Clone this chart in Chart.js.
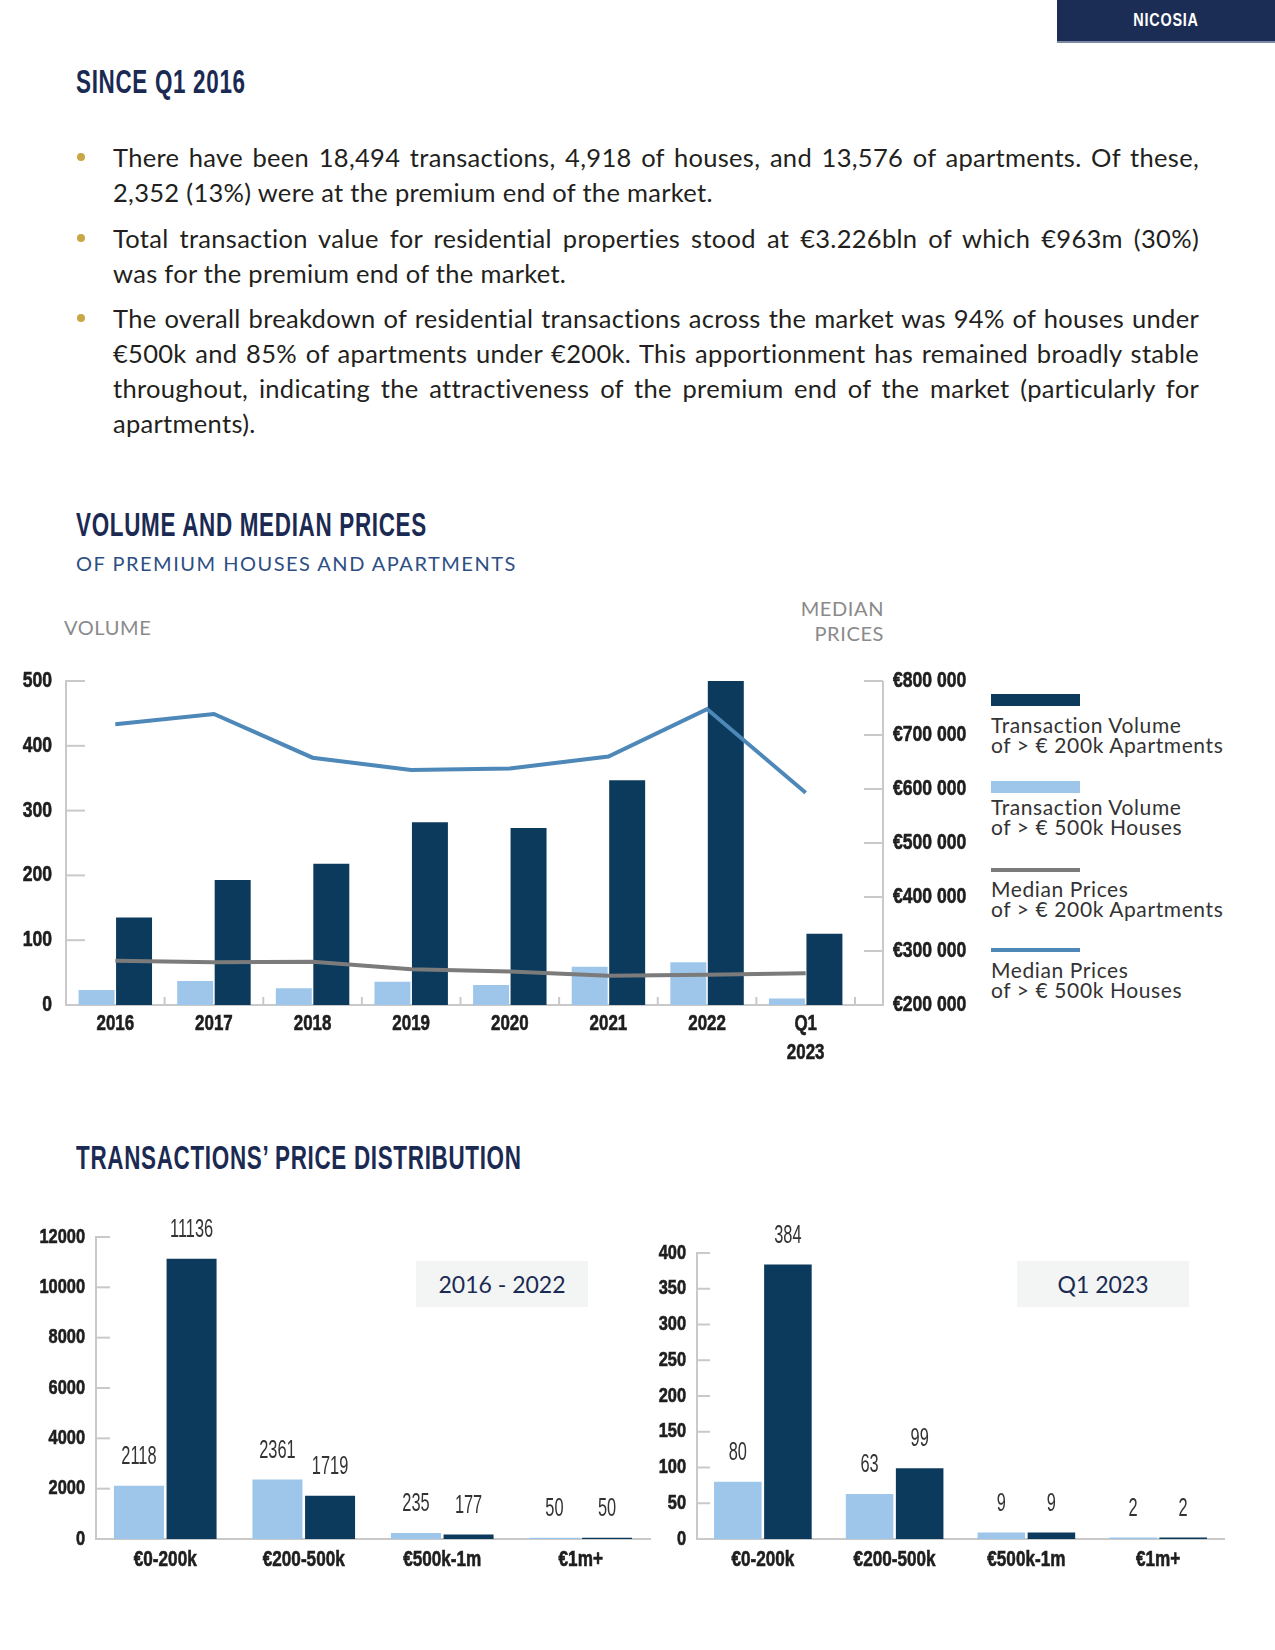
<!DOCTYPE html>
<html>
<head>
<meta charset="utf-8">
<script src="https://cdn.jsdelivr.net/npm/chart.js@4.4.1/dist/chart.umd.min.js"></script>
<style>
  body { margin: 0; width: 1275px; height: 1650px; position: relative; background: #fff; overflow: hidden;
         font-family: Lato, "Open Sans", sans-serif; color: #231f20; }
  .abs { position: absolute; }
  .head { font-family: "Liberation Sans", Arial, sans-serif; font-weight: 700; color: #1b2a52;
          font-size: 33px; line-height: 40px; letter-spacing: 1px; transform: scaleX(0.68); transform-origin: 0 50%; white-space: nowrap; }
  .tag { left: 1057px; top: 0; width: 218px; height: 41px; background: #1c2d55; border-bottom: 2px solid #7e8aa3;
         color: #fff; text-align: center; line-height: 41px; font-family: "Liberation Sans", Arial, sans-serif;
         font-weight: 700; font-size: 18px; letter-spacing: 1px; }
  .tag span { display: inline-block; transform: scaleX(0.8); }
  .body { font-size: 25.5px; letter-spacing: 0.3px; }
  .p { position: relative; margin-bottom: 10.5px; }
  .ln { display: block; height: 35px; line-height: 35px; white-space: nowrap; }
  .j { text-align: justify; text-align-last: justify; white-space: normal; word-spacing: -3px; }
  .dot { position: absolute; left: -36px; top: 13px; width: 8px; height: 8px; border-radius: 50%; background: #c9a646; }
  .sub { font-size: 20px; line-height: 24px; color: #2d4f84; letter-spacing: 1.5px; white-space: nowrap; }
  .grey { font-size: 20px; line-height: 25px; color: #8a8a8a; letter-spacing: 0.6px; white-space: nowrap; }
  .leg { left: 991px; width: 280px; }
  .sw { position: absolute; left: 0; width: 89px; }
  .lt { position: absolute; left: 0; font-size: 21px; line-height: 20px; letter-spacing: 0.6px; color: #333; white-space: nowrap; }
  .box { background: #f3f5f5; color: #1b2a52; font-size: 23px; text-align: center; line-height: 46px; height: 46px; }
</style>
</head>
<body>

<div class="abs tag"><span>NICOSIA</span></div>
<div class="abs head" style="left:76px;top:62px;">SINCE Q1 2016</div>

<div class="abs body" style="left:113px;top:140px;width:1086px;">
  <div class="p"><span class="dot"></span>
    <span class="ln j">There have been 18,494 transactions, 4,918 of houses, and 13,576 of apartments. Of these,</span>
    <span class="ln">2,352 (13%) were at the premium end of the market.</span>
  </div>
  <div class="p"><span class="dot"></span>
    <span class="ln j">Total transaction value for residential properties stood at €3.226bln of which €963m (30%)</span>
    <span class="ln">was for the premium end of the market.</span>
  </div>
  <div class="p"><span class="dot"></span>
    <span class="ln j">The overall breakdown of residential transactions across the market was 94% of houses under</span>
    <span class="ln j">€500k and 85% of apartments under €200k. This apportionment has remained broadly stable</span>
    <span class="ln j">throughout, indicating the attractiveness of the premium end of the market (particularly for</span>
    <span class="ln">apartments).</span>
  </div>
</div>

<div class="abs head" style="left:76px;top:505px;">VOLUME AND MEDIAN PRICES</div>
<div class="abs sub" style="left:76px;top:551px;">OF PREMIUM HOUSES AND APARTMENTS</div>
<div class="abs grey" style="left:64px;top:615px;">VOLUME</div>
<div class="abs grey" style="left:784px;top:596px;width:100px;text-align:right;">MEDIAN<br>PRICES</div>

<canvas id="volChart" class="abs" width="975" height="420" style="left:0;top:650px;"></canvas>

<div class="abs leg" style="top:0;">
  <div class="sw" style="top:694px;height:12px;background:#0c3a5c;"></div>
  <div class="lt" style="top:715px;">Transaction Volume<br>of &gt; € 200k Apartments</div>
  <div class="sw" style="top:781px;height:12px;background:#9dc6ea;"></div>
  <div class="lt" style="top:797px;">Transaction Volume<br>of &gt; € 500k Houses</div>
  <div class="sw" style="top:868px;height:4px;background:#7b7b7b;"></div>
  <div class="lt" style="top:879px;">Median Prices<br>of &gt; € 200k Apartments</div>
  <div class="sw" style="top:948px;height:4px;background:#4d88b8;"></div>
  <div class="lt" style="top:960px;">Median Prices<br>of &gt; € 500k Houses</div>
</div>

<div class="abs head" style="left:76px;top:1138px;">TRANSACTIONS’ PRICE DISTRIBUTION</div>

<canvas id="distAll" class="abs" width="655" height="390" style="left:0;top:1200px;"></canvas>
<canvas id="distQ1" class="abs" width="600" height="390" style="left:640px;top:1200px;"></canvas>

<div class="abs box" style="left:416px;top:1261px;width:172px;">2016 - 2022</div>
<div class="abs box" style="left:1017px;top:1261px;width:172px;">Q1 2023</div>

<script>
// volume and median prices, premium segment
const years = ['2016', '2017', '2018', '2019', '2020', '2021', '2022', ['Q1', '2023']];
const aptVolume = [135, 193, 218, 282, 273, 347, 500, 110];
const houseVolume = [23, 37, 26, 36, 31, 59, 66, 10];
const aptMedian = [282000, 279000, 280000, 266000, 262000, 254000, 256000, 259000];
const houseMedian = [720000, 739000, 658000, 635000, 638000, 660000, 748000, 593000];

// price distribution
const priceBands = ['€0-200k', '€200-500k', '€500k-1m', '€1m+'];
const housesAll = [2118, 2361, 235, 50];
const aptsAll = [11136, 1719, 177, 50];
const housesQ1 = [80, 63, 9, 2];
const aptsQ1 = [384, 99, 9, 2];

const SANS = '"Liberation Sans", Arial, sans-serif';
const AXIS = '#c9c9c9';
const DARK = '#0c3a5c';
const LIGHT = '#9dc6ea';
const BLUE = '#4d88b8';
const GREY = '#7b7b7b';
const INK = '#1e1e1e';

function euro(v) {
    return '€' + String(v).replace(/\B(?=(\d{3})+(?!\d))/g, ' ');
}

function seg(ctx, x1, y1, x2, y2) {
    ctx.beginPath();
    ctx.moveTo(x1, y1);
    ctx.lineTo(x2, y2);
    ctx.stroke();
}

// the original uses a condensed face, so text is squeezed horizontally
function squeeze(ctx, text, x, y, sx, bold) {
    ctx.save();
    ctx.translate(x, y);
    ctx.scale(sx, 1);
    ctx.fillText(text, 0, 0);
    if (bold) {
        ctx.lineWidth = bold;
        ctx.strokeText(text, 0, 0);
    }
    ctx.restore();
}

// short tick marks drawn inside the plot, like the original
const innerTicks = {
    id: 'innerTicks',
    beforeDatasetsDraw(chart, args, opts) {
        const ctx = chart.ctx, a = chart.chartArea;
        ctx.save();
        ctx.strokeStyle = AXIS;
        ctx.lineWidth = 2;
        const y = chart.scales.y;
        y.ticks.forEach(t => {
            const py = y.getPixelForValue(t.value);
            seg(ctx, a.left, py, a.left + opts.len, py);
        });
        if (opts.rightGap) {
            const r = a.right + opts.rightGap;
            seg(ctx, a.right, a.bottom, r, a.bottom);
            seg(ctx, r, a.top, r, a.bottom + 1);
            const y2 = chart.scales.y2;
            y2.ticks.forEach(t => {
                const py = y2.getPixelForValue(t.value);
                seg(ctx, r - opts.len, py, r, py);
            });
            const x = chart.scales.x;
            const w = (x.right - x.left) / x.ticks.length;
            for (let i = 1; i <= x.ticks.length; i++) {
                const px = x.left + i * w;
                seg(ctx, px, a.bottom, px, a.bottom - 8);
            }
        }
        ctx.restore();
    }
};

// tick labels, placed from each scale's own tick pixels
function tickLabels(axes) {
    return {
        id: 'tickLabels',
        afterDraw(chart) {
            const ctx = chart.ctx;
            ctx.save();
            ctx.fillStyle = INK;
            ctx.strokeStyle = INK;
            ctx.textBaseline = 'middle';
            Object.keys(axes).forEach(id => {
                const o = axes[id], scale = chart.scales[id];
                ctx.font = 'bold ' + o.size + 'px ' + SANS;
                scale.ticks.forEach((t, i) => {
                    const p = scale.getPixelForTick(i);
                    const text = o.fmt ? o.fmt(t.value) : t.label;
                    [].concat(text).forEach((line, k) => {
                        let x, y;
                        if (scale.isHorizontal()) {
                            x = p; y = scale.top + o.off + k * o.lh; ctx.textAlign = 'center';
                        } else if (scale.position === 'left') {
                            x = scale.right - o.off; y = p; ctx.textAlign = 'right';
                        } else {
                            x = scale.left + o.off; y = p; ctx.textAlign = 'left';
                        }
                        squeeze(ctx, line, x, y, o.sx, 0.6);
                    });
                });
            });
            ctx.restore();
        }
    };
}

const valueLabels = {
    id: 'valueLabels',
    afterDatasetsDraw(chart) {
        const ctx = chart.ctx;
        ctx.save();
        ctx.fillStyle = '#333';
        ctx.font = '26px ' + SANS;
        ctx.textAlign = 'center';
        ctx.textBaseline = 'middle';
        chart.data.datasets.forEach((ds, i) => {
            chart.getDatasetMeta(i).data.forEach((bar, j) => {
                squeeze(ctx, ds.data[j], bar.x, bar.y - 29, 0.63);
            });
        });
        ctx.restore();
    }
};

const hidden = { display: false };

new Chart(document.getElementById('volChart'), {
    data: {
        labels: years,
        datasets: [
            { type: 'line', label: 'Median Prices of > € 500k Houses', data: houseMedian, yAxisID: 'y2',
              borderColor: BLUE, borderWidth: 4, pointRadius: 0, order: 0 },
            { type: 'line', label: 'Median Prices of > € 200k Apartments', data: aptMedian, yAxisID: 'y2',
              borderColor: GREY, borderWidth: 4, pointRadius: 0, order: 0 },
            { type: 'bar', label: 'Transaction Volume of > € 500k Houses', data: houseVolume, yAxisID: 'y',
              backgroundColor: LIGHT, categoryPercentage: 0.76, barPercentage: 0.96, order: 1 },
            { type: 'bar', label: 'Transaction Volume of > € 200k Apartments', data: aptVolume, yAxisID: 'y',
              backgroundColor: DARK, categoryPercentage: 0.76, barPercentage: 0.96, order: 1 }
        ]
    },
    options: {
        responsive: false,
        animation: false,
        layout: { padding: { top: 31, left: 0, right: 0, bottom: 0 } },
        plugins: {
            legend: { display: false },
            tooltip: { enabled: false },
            innerTicks: { len: 19, rightGap: 28 }
        },
        scales: {
            x: {
                grid: { display: false, drawTicks: false },
                border: { color: AXIS, width: 2 },
                ticks: hidden,
                afterFit: s => { s.height = 65; }
            },
            y: {
                position: 'left', min: 0, max: 500,
                grid: { display: false, drawTicks: false },
                border: { color: AXIS, width: 2 },
                ticks: { display: false, stepSize: 100 },
                afterFit: s => { s.width = 66; }
            },
            y2: {
                position: 'right', min: 200000, max: 800000,
                grid: { display: false, drawTicks: false },
                border: { display: false },
                ticks: { display: false, stepSize: 100000 },
                afterFit: s => { s.width = 120; }
            }
        }
    },
    plugins: [innerTicks, tickLabels({
        x: { size: 22, sx: 0.77, off: 19, lh: 29 },
        y: { size: 22, sx: 0.8, off: 14, fmt: v => String(v) },
        y2: { size: 22, sx: 0.8, off: 38, fmt: euro }
    })]
});

function distChart(id, houses, apts, max, step, yWidth, padTop, padRight, tickLen) {
    new Chart(document.getElementById(id), {
        type: 'bar',
        data: {
            labels: priceBands,
            datasets: [
                { label: 'Houses', data: houses, backgroundColor: LIGHT, categoryPercentage: 0.76, barPercentage: 0.95 },
                { label: 'Apartments', data: apts, backgroundColor: DARK, categoryPercentage: 0.76, barPercentage: 0.95 }
            ]
        },
        options: {
            responsive: false,
            animation: false,
            layout: { padding: { top: padTop, left: 0, right: padRight, bottom: 0 } },
            plugins: {
                legend: { display: false },
                tooltip: { enabled: false },
                innerTicks: { len: tickLen }
            },
            scales: {
                x: {
                    grid: { display: false, drawTicks: false },
                    border: { color: AXIS, width: 2 },
                    ticks: hidden,
                    afterFit: s => { s.height = 51; }
                },
                y: {
                    min: 0, max: max,
                    grid: { display: false, drawTicks: false },
                    border: { color: AXIS, width: 2 },
                    ticks: { display: false, stepSize: step },
                    afterFit: s => { s.width = yWidth; }
                }
            }
        },
        plugins: [innerTicks, valueLabels, tickLabels({
            x: { size: 22, sx: 0.78, off: 21, lh: 25 },
            y: { size: 20, sx: 0.82, off: 11, fmt: v => String(v) }
        })]
    });
}

distChart('distAll', housesAll, aptsAll, 12000, 2000, 96, 37, 5, 14);
distChart('distQ1', housesQ1, aptsQ1, 400, 50, 57, 53, 16, 13);
</script>
</body>
</html>
